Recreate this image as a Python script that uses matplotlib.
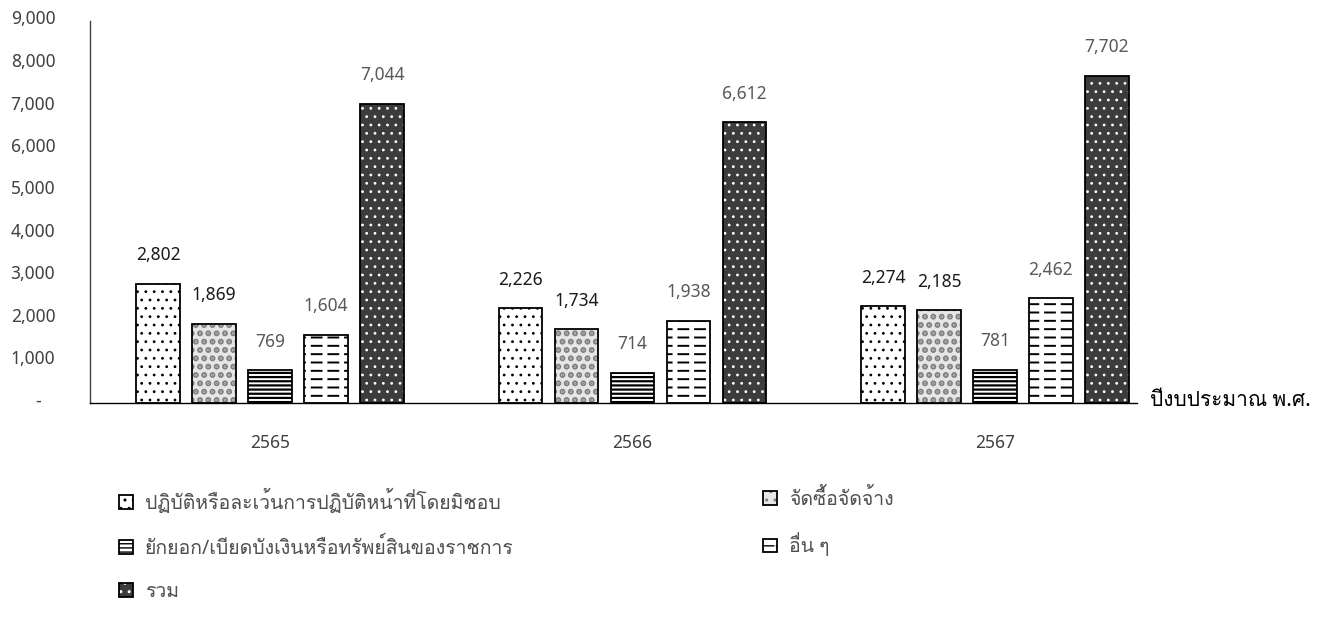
import numpy as np
import matplotlib
matplotlib.use("Agg")
import matplotlib.pyplot as plt
from matplotlib import font_manager
from matplotlib.ft2font import FT2Font
from matplotlib.patches import Patch
from matplotlib.ticker import FuncFormatter
from matplotlib.transforms import ScaledTranslation
from matplotlib.legend_handler import HandlerTuple

# ---- data -------------------------------------------------------------
years = ["2565", "2566", "2567"]
series_names = [
    "ปฏิบัติหรือละเว้นการปฏิบัติหน้าที่โดยมิชอบ",
    "จัดซื้อจัดจ้าง",
    "ยักยอก/เบียดบังเงินหรือทรัพย์สินของราชการ",
    "อื่น ๆ",
    "รวม",
]
misconduct = [2802, 2226, 2274]
procurement = [1869, 1734, 2185]
embezzlement = [769, 714, 781]
other = [1604, 1938, 2462]
total = [7044, 6612, 7702]
series_values = [misconduct, procurement, embezzlement, other, total]
x_title = "ปีงบประมาณ พ.ศ."


# ---- fonts: pick an installed family that covers Thai -----------------
def find_thai_family():
    preferred = ["Tahoma", "Loma", "Noto Sans Thai", "Noto Sans Thai UI",
                 "Garuda", "Sarabun", "TH Sarabun New", "Umpush", "Norasi"]
    found = []
    for f in font_manager.fontManager.ttflist:
        try:
            cmap = FT2Font(f.fname).get_charmap()
        except Exception:
            continue
        if 0x0E01 in cmap and 0x0E1B in cmap:
            found.append(f.name)
    for name in preferred:
        if name in found:
            return name
    return found[0] if found else None


thai = find_thai_family()
families = ["Noto Sans"] + ([thai] if thai else []) + ["DejaVu Sans"]
plt.rcParams["font.family"] = families

FS = 12.5          # numbers
FS_LEGEND = 14     # Thai legend captions
FS_TITLE = 15      # Thai axis caption
TXT = "#404040"

fig = plt.figure(figsize=(13.27, 6.30), dpi=100)
W, H = 1327, 630
ax_left, ax_right, ax_bottom, ax_top = 90, 1137, 403, 20.5
ax = fig.add_axes([ax_left / W, 1 - ax_bottom / H,
                   (ax_right - ax_left) / W, (ax_bottom - ax_top) / H])

# bar styling per series: fill, hatch, hatch colour, hatch line width,
# plus an optional white "breaker" hatch that turns lines into dashes
styles = [
    dict(face="white", hatch="..", hcol="black", hlw=0.8, brk=None),
    dict(face="#e6e6e6", hatch="..", hcol="#7f7f7f", hlw=3.0, brk=None),
    dict(face="white", hatch="----", hcol="black", hlw=1.6, brk=None),
    dict(face="white", hatch="--", hcol="black", hlw=1.4, brk="|"),
    dict(face="#3c3c3c", hatch="..", hcol="white", hlw=0.8, brk=None),
]
label_colors = ["#1a1a1a", "#1a1a1a", "#595959", "#595959", "#595959"]


def set_hlw(patch, lw):
    if hasattr(patch, "set_hatch_linewidth"):
        patch.set_hatch_linewidth(lw)


x = np.arange(len(years))
width = 0.121
step = 0.1545
legend_handles = []
for i, (vals, st) in enumerate(zip(series_values, styles)):
    pos = x + (i - 2) * step
    hb = ax.bar(pos, vals, width, facecolor=st["face"], edgecolor=st["hcol"],
                hatch=st["hatch"], linewidth=0, zorder=2)
    for p in hb:
        set_hlw(p, st["hlw"])
    parts = [Patch(facecolor=st["face"], edgecolor=st["hcol"],
                   hatch=st["hatch"], linewidth=0)]
    set_hlw(parts[0], st["hlw"])
    if st["brk"]:
        bb = ax.bar(pos, vals, width, facecolor="none", edgecolor="white",
                    hatch=st["brk"], linewidth=0, zorder=2.5)
        for p in bb:
            set_hlw(p, 3.5)
        bp = Patch(facecolor="none", edgecolor="white", hatch=st["brk"],
                   linewidth=0)
        set_hlw(bp, 3.5)
        parts.append(bp)
    ax.bar(pos, vals, width, facecolor="none", edgecolor="black",
           linewidth=1.3, zorder=3)
    parts.append(Patch(facecolor="none", edgecolor="black", linewidth=1.3))
    legend_handles.append(tuple(parts))
    for xp, v in zip(pos, vals):
        ax.annotate(f"{v:,}", (xp, v), xytext=(0, 14), textcoords="offset points",
                    ha="center", va="bottom", fontsize=FS, color=label_colors[i])

ax.set_xlim(-0.497, 2.392)
ax.set_ylim(0, 9000)
ax.set_yticks(np.arange(0, 9001, 1000))
ax.yaxis.set_major_formatter(FuncFormatter(
    lambda v, _: "-   " if v == 0 else f"{v:,.0f}"))
ax.set_xticks(x)
ax.set_xticklabels(years)
ax.tick_params(axis="y", length=0, pad=25, labelsize=FS, labelcolor=TXT)
ax.tick_params(axis="x", length=0, pad=22, labelsize=FS, labelcolor=TXT)
shift_up = ScaledTranslation(0, 3 / 100, fig.dpi_scale_trans)
for lab in ax.get_yticklabels():
    lab.set_transform(lab.get_transform() + shift_up)
for side in ("top", "right"):
    ax.spines[side].set_visible(False)
ax.spines["left"].set_color("#404040")
ax.spines["left"].set_linewidth(1.0)
ax.spines["bottom"].set_color("black")
ax.spines["bottom"].set_linewidth(1.0)

fig.text(1150 / W, 1 - 400 / H, x_title, ha="left", va="center",
         fontsize=FS_TITLE, color="black")

# two-column legend below the axes, filled row by row
common = dict(frameon=False, fontsize=FS_LEGEND, labelcolor="#505050",
              handlelength=0.72, handleheight=0.72, handletextpad=0.6,
              labelspacing=1.2, borderpad=0, borderaxespad=0,
              handler_map={tuple: HandlerTuple(ndivide=1, pad=0)})
left_idx = [0, 2, 4]
right_idx = [1, 3]
fig.legend([legend_handles[k] for k in left_idx],
           [series_names[k] for k in left_idx],
           loc="upper left", bbox_to_anchor=(119 / W, 1 - 489 / H), **common)
fig.legend([legend_handles[k] for k in right_idx],
           [series_names[k] for k in right_idx],
           loc="upper left", bbox_to_anchor=(763 / W, 1 - 489 / H), **common)

fig.savefig("out.png", dpi=100, facecolor="white")
